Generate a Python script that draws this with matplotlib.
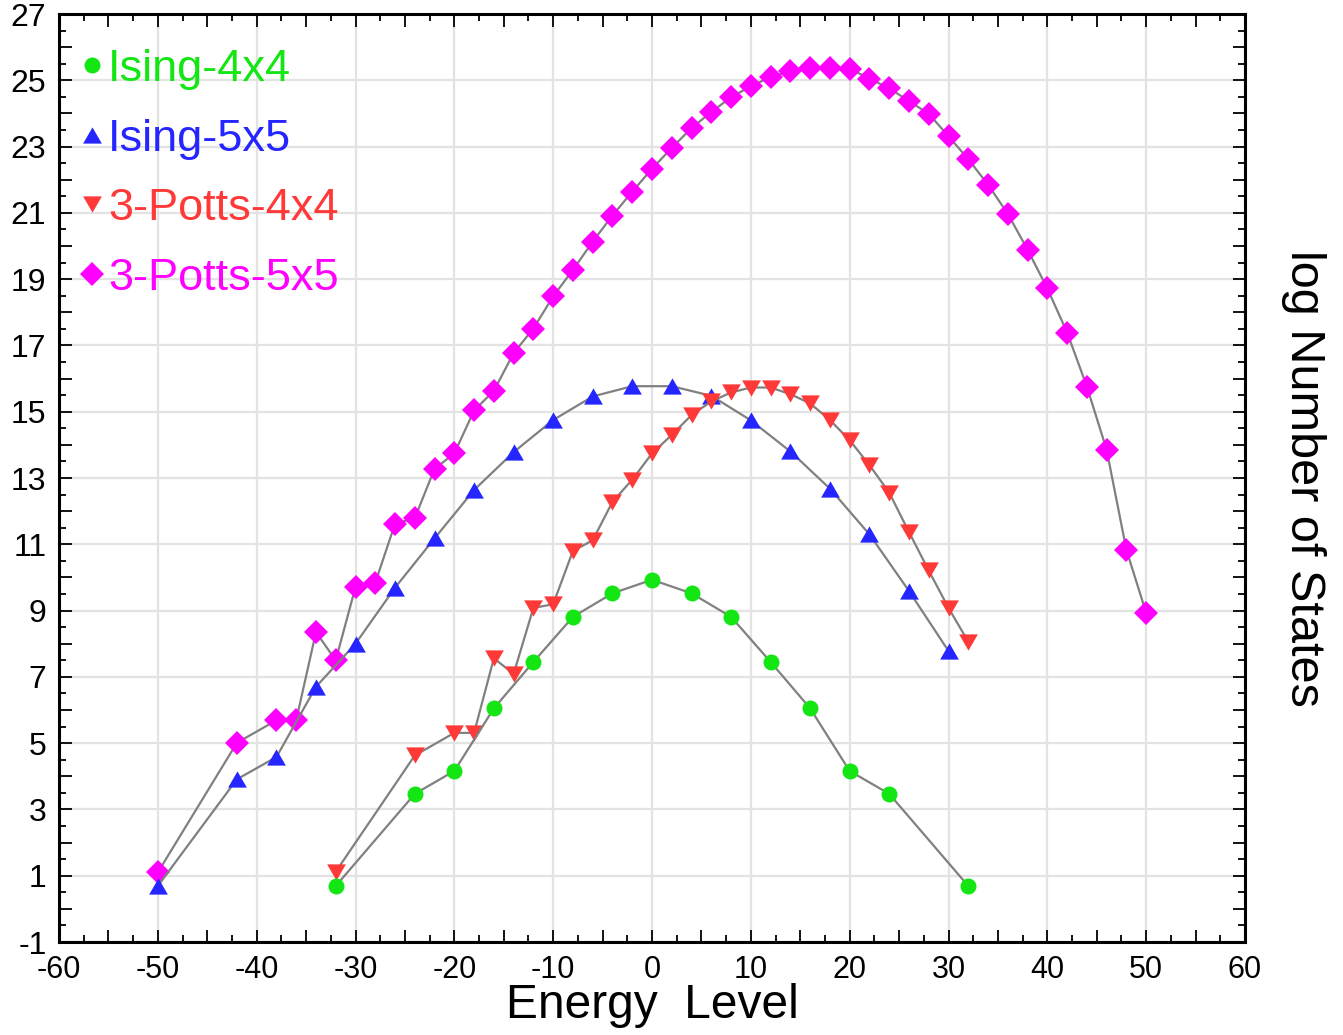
import matplotlib
matplotlib.use("Agg")
import matplotlib.pyplot as plt
from matplotlib.lines import Line2D
from matplotlib.ticker import MultipleLocator, FuncFormatter
import numpy as np

plt.rcParams['font.family'] = ['Liberation Sans', 'DejaVu Sans']

# ---------------- data ----------------
ising4_E = [-32, -24, -20, -16, -12, -8, -4, 0, 4, 8, 12, 16, 20, 24, 32]
ising4_S = [0.69, 3.47, 4.16, 6.05, 7.45, 8.81, 9.52, 9.93, 9.52, 8.81, 7.45, 6.05, 4.16, 3.47, 0.69]

ising5_E = [-50, -42, -38, -34, -30, -26, -22, -18, -14, -10, -6, -2, 2, 6, 10, 14, 18, 22, 26, 30]
ising5_S = [0.69, 3.91, 4.58, 6.70, 8.00, 9.69, 11.18, 12.64, 13.78, 14.75, 15.46, 15.77,
            15.77, 15.48, 14.74, 13.80, 12.68, 11.30, 9.59, 7.78]

potts4_E = [-32, -24, -20, -18, -16, -14, -12, -10, -8, -6, -4, -2, 0, 2, 4, 6, 8, 10, 12,
            14, 16, 18, 20, 22, 24, 26, 28, 30, 32]
potts4_S = [1.12, 4.63, 5.31, 5.31, 7.56, 7.09, 9.08, 9.19, 10.80, 11.12, 12.28, 12.95, 13.74,
            14.30, 14.90, 15.31, 15.58, 15.73, 15.73, 15.53, 15.25, 14.75, 14.14, 13.39, 12.56,
            11.37, 10.21, 9.08, 8.06]

potts5_E = [-50, -42, -38, -36, -34, -32, -30, -28, -26, -24, -22, -20, -18, -16, -14, -12,
            -10, -8, -6, -4, -2, 0, 2, 4, 6, 8, 10, 12, 14, 16, 18, 20, 22, 24, 26, 28, 30,
            32, 34, 36, 38, 40, 42, 44, 46, 48, 50]
potts5_S = [1.10, 5.01, 5.69, 5.69, 8.35, 7.50, 9.71, 9.84, 11.62, 11.79, 13.28, 13.74, 15.04,
            15.63, 16.77, 17.51, 18.48, 19.28, 20.13, 20.92, 21.64, 22.33, 22.96, 23.56, 24.04,
            24.49, 24.82, 25.10, 25.28, 25.38, 25.38, 25.35, 25.05, 24.76, 24.37, 23.99, 23.31,
            22.62, 21.85, 20.97, 19.89, 18.72, 17.39, 15.76, 13.85, 10.83, 8.93]

labels = ["Ising-4x4", "Ising-5x5", "3-Potts-4x4", "3-Potts-5x5"]
colors = ["#14e614", "#2525ff", "#ff3838", "#ff00ff"]

x_ticks = list(range(-60, 61, 10))
y_ticks = list(range(-1, 28, 2))

# ---------------- figure ----------------
fig = plt.figure(figsize=(13.43, 10.35), dpi=100)
ax = fig.add_axes([59 / 1343, 93 / 1035, (1245 - 59) / 1343, (942 - 14) / 1035])

tri_up = [(-1, -0.866), (1, -0.866), (0, 0.866)]
tri_dn = [(-1, 0.866), (1, 0.866), (0, -0.866)]

line_kw = dict(color="#808080", lw=1.6, markeredgewidth=0)
series = [
    (potts5_E, potts5_S, "D", 12.7, colors[3], 5),
    (ising5_E, ising5_S, tri_up, 13.5, colors[1], 6),
    (potts4_E, potts4_S, tri_dn, 13.5, colors[2], 7),
    (ising4_E, ising4_S, "o", 11.5, colors[0], 8),
]
for E, S, m, ms, c, z in series:
    ax.plot(E, S, marker=m, ms=ms, markerfacecolor=c, zorder=z, **line_kw)

ax.set_xlim(-60, 60)
ax.set_ylim(-1, 27)

# grid
for xv in x_ticks:
    ax.axvline(xv, color="#e3e3e3", lw=1.6, zorder=0)
for yv in y_ticks:
    ax.axhline(yv, color="#e3e3e3", lw=1.6, zorder=0)

ax.xaxis.set_major_locator(MultipleLocator(5))
ax.xaxis.set_minor_locator(MultipleLocator(2.5))
ax.yaxis.set_major_locator(MultipleLocator(1))
ax.yaxis.set_minor_locator(MultipleLocator(0.5))
ax.xaxis.set_major_formatter(FuncFormatter(lambda v, p: f"{int(round(v))}" if round(v) % 10 == 0 else ""))
ax.yaxis.set_major_formatter(FuncFormatter(lambda v, p: f"{int(round(v))}" if int(round(v)) % 2 != 0 else ""))

ax.tick_params(which="both", direction="in", top=True, right=True, colors="black", width=1.3)
ax.tick_params(which="major", length=9)
ax.tick_params(which="minor", length=5)
ax.tick_params(axis="x", which="major", labelsize=22, pad=9)
ax.tick_params(axis="y", which="major", labelsize=23, pad=9)

for sp in ax.spines.values():
    sp.set_linewidth(2.2)
    sp.set_color("black")
    sp.set_zorder(20)

ax.set_xlabel("Energy  Level", fontsize=34.5, labelpad=-1)
ax.yaxis.set_label_position("right")
ax.set_ylabel("log Number of States", fontsize=35, rotation=270, labelpad=58)

# legend
handles = [
    Line2D([], [], ls="none", marker="o", ms=11.5, markerfacecolor=colors[0], markeredgewidth=0),
    Line2D([], [], ls="none", marker=tri_up, ms=13.5, markerfacecolor=colors[1], markeredgewidth=0),
    Line2D([], [], ls="none", marker=tri_dn, ms=13.5, markerfacecolor=colors[2], markeredgewidth=0),
    Line2D([], [], ls="none", marker="D", ms=12.0, markerfacecolor=colors[3], markeredgewidth=0),
]
leg = ax.legend(handles, labels, loc="upper left", bbox_to_anchor=(0.0185, 0.962),
                frameon=False, fontsize=32.5, handlelength=0.5, handletextpad=0.1,
                labelspacing=0.63, borderpad=0, borderaxespad=0)
for t, c in zip(leg.get_texts(), colors):
    t.set_color(c)
leg.set_zorder(30)

fig.savefig("out.png", dpi=100)
